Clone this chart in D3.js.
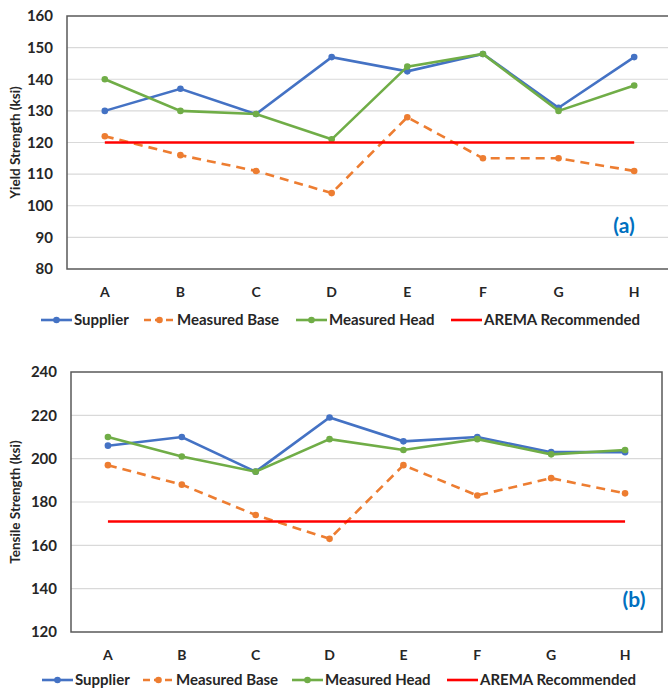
<!DOCTYPE html>
<html>
<head>
<meta charset="utf-8">
<script src="https://cdn.jsdelivr.net/npm/d3@7"></script>
<style>
  body { margin: 0; background: #fff; }
  svg { display: block; font-family: Lato, "Open Sans", sans-serif; }
</style>
</head>
<body>
<svg id="chart" width="668" height="690"></svg>
<script>
// Rail samples
const categories = ["A", "B", "C", "D", "E", "F", "G", "H"];

// (a) yield strength, ksi
const yieldSupplier = [130, 137, 129, 147, 142.5, 148, 131, 147];
const yieldBase = [122, 116, 111, 104, 128, 115, 115, 111];
const yieldHead = [140, 130, 129, 121, 144, 148, 130, 138];
const yieldArema = [120, 120, 120, 120, 120, 120, 120, 120];
const yieldTicks = [80, 90, 100, 110, 120, 130, 140, 150, 160];

// (b) tensile strength, ksi
const tensileSupplier = [206, 210, 194, 219, 208, 210, 203, 203];
const tensileBase = [197, 188, 174, 163, 197, 183, 191, 184];
const tensileHead = [210, 201, 194, 209, 204, 209, 202, 204];
const tensileArema = [171, 171, 171, 171, 171, 171, 171, 171];
const tensileTicks = [120, 140, 160, 180, 200, 220, 240];

const seriesNames = ["Supplier", "Measured Base", "Measured Head", "AREMA Recommended"];
const colors = { "Supplier": "#4472C4", "Measured Base": "#ED7D31", "Measured Head": "#70AD47", "AREMA Recommended": "#FF0000" };

const svg = d3.select("#chart");

function drawPanel(opt) {
    const x = d3.scaleBand().domain(categories).range([opt.left, opt.right]);
    const y = d3.scaleLinear().domain(d3.extent(opt.ticks)).range([opt.bottom, opt.top]);
    const g = svg.append("g");

    // gridlines
    g.selectAll(".grid")
        .data(opt.ticks.slice(1, -1))
        .enter().append("line")
        .attr("x1", opt.left).attr("x2", opt.right)
        .attr("y1", d => y(d)).attr("y2", d => y(d))
        .attr("stroke", "#d9d9d9").attr("stroke-width", 1.2);

    // frame
    g.append("rect")
        .attr("x", opt.left).attr("y", opt.top)
        .attr("width", opt.right - opt.left).attr("height", opt.bottom - opt.top)
        .attr("fill", "none").attr("stroke", "#595959").attr("stroke-width", 1.5);

    // y tick labels
    g.selectAll(".ytick")
        .data(opt.ticks)
        .enter().append("text")
        .attr("x", opt.left - 14).attr("y", d => y(d))
        .attr("dy", "0.35em")
        .attr("text-anchor", "end")
        .attr("font-size", "15px").attr("font-weight", "700").attr("fill", "#262626")
        .text(d => d);

    // x tick labels
    g.selectAll(".xtick")
        .data(categories)
        .enter().append("text")
        .attr("x", d => x(d) + x.bandwidth() / 2).attr("y", opt.bottom + 28)
        .attr("text-anchor", "middle")
        .attr("font-size", "14px").attr("font-weight", "700").attr("fill", "#262626")
        .text(d => d);

    // axis title
    g.append("text")
        .attr("transform", `translate(20,${(opt.top + opt.bottom) / 2}) rotate(-90)`)
        .attr("text-anchor", "middle")
        .attr("font-size", "13.5px").attr("font-weight", "700").attr("fill", "#262626")
        .text(opt.title);

    const line = d3.line()
        .x((d, i) => x(categories[i]) + x.bandwidth() / 2)
        .y(d => y(d));

    opt.series.forEach((s, k) => {
        const name = seriesNames[k];
        g.append("path")
            .datum(s)
            .attr("d", line)
            .attr("fill", "none")
            .attr("stroke", colors[name])
            .attr("stroke-width", 2.6)
            .attr("stroke-dasharray", name === "Measured Base" ? "9,6" : null);
        if (name !== "AREMA Recommended") {
            g.selectAll(null)
                .data(s)
                .enter().append("circle")
                .attr("cx", (d, i) => x(categories[i]) + x.bandwidth() / 2)
                .attr("cy", d => y(d))
                .attr("r", 3.3)
                .attr("fill", colors[name]);
        }
    });

    // panel tag
    g.append("text")
        .attr("x", opt.tagX).attr("y", opt.tagY)
        .attr("text-anchor", "middle")
        .attr("font-size", "21px").attr("font-weight", "700").attr("fill", "#0070C0")
        .text(opt.tag);

    // legend
    const legendX = opt.legendX;
    seriesNames.forEach((name, k) => {
        const lx = legendX[k];
        const lg = g.append("g").attr("transform", `translate(${lx},${opt.legendY})`);
        lg.append("line")
            .attr("x1", 0).attr("x2", 31)
            .attr("stroke", colors[name]).attr("stroke-width", 2.6)
            .attr("stroke-dasharray", name === "Measured Base" ? "7,4" : null);
        if (name !== "AREMA Recommended") {
            lg.append("circle").attr("cx", 15.5).attr("r", 3.3).attr("fill", colors[name]);
        }
        lg.append("text")
            .attr("x", 33).attr("dy", "0.35em")
            .attr("font-size", "15px").attr("font-weight", "700").attr("fill", "#262626")
            .text(name);
    });
}

drawPanel({
    left: 67, right: 672, top: 16, bottom: 269,
    ticks: yieldTicks,
    series: [yieldSupplier, yieldBase, yieldHead, yieldArema],
    title: "Yield Strength (ksi)",
    tag: "(a)", tagX: 624, tagY: 233,
    legendX: [41, 144, 296, 451], legendY: 320
});

drawPanel({
    left: 71, right: 662, top: 372, bottom: 632,
    ticks: tensileTicks,
    series: [tensileSupplier, tensileBase, tensileHead, tensileArema],
    title: "Tensile Strength (ksi)",
    tag: "(b)", tagX: 634, tagY: 607,
    legendX: [42, 143, 292, 447], legendY: 680
});
</script>
</body>
</html>
